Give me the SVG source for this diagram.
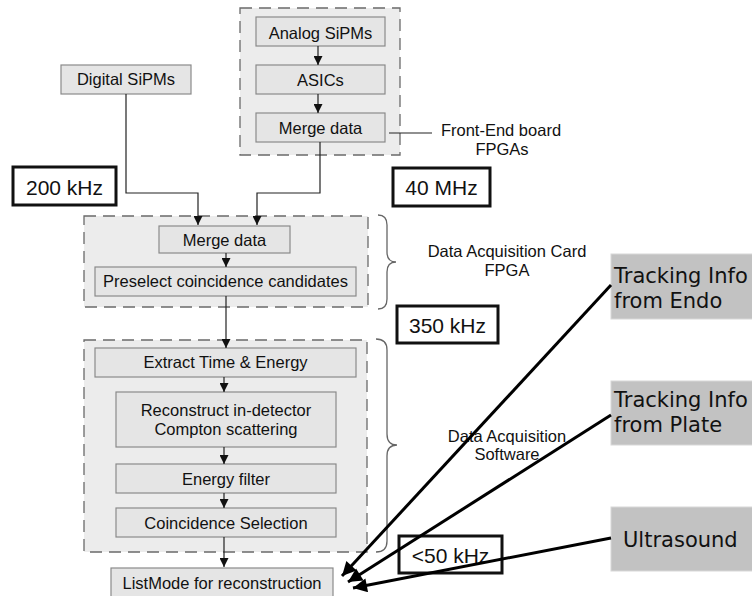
<svg xmlns="http://www.w3.org/2000/svg" width="752" height="596" viewBox="0 0 752 596">
<defs>
<style>
.cont{fill:#ececec;stroke:#6a6a6a;stroke-width:1.3;stroke-dasharray:12 7}
.box{fill:#e5e5e5;stroke:#8a8a8a;stroke-width:1.2}
.t{font-family:"Liberation Sans",Arial,sans-serif;font-size:16.5px;fill:#111;text-anchor:middle}
.rate{fill:#fff;stroke:#111;stroke-width:3}
.rt{font-family:"Liberation Sans",Arial,sans-serif;font-size:21px;fill:#111;text-anchor:middle}
.ext{fill:#c2c2c2;stroke:#d8d8d8;stroke-width:1}
.et{font-family:"DejaVu Sans",sans-serif;font-size:21px;fill:#111}
.ln{fill:none;stroke:#222;stroke-width:1.2}
.thick{fill:none;stroke:#000;stroke-width:3}
.brace{fill:none;stroke:#666;stroke-width:1.3}
</style>
<marker id="a" viewBox="0 0 10 10" refX="10" refY="5" markerWidth="9" markerHeight="9" markerUnits="userSpaceOnUse" orient="auto">
<path d="M0,0 L10,5 L0,10 z" fill="#111"/>
</marker>
<marker id="b" viewBox="0 0 10 10" refX="10" refY="5" markerWidth="18" markerHeight="14" markerUnits="userSpaceOnUse" orient="auto">
<path d="M0,0 L10,5 L0,10 z" fill="#000"/>
</marker>
</defs>
<rect width="752" height="596" fill="#fff"/>

<g id="frontend">
<rect class="cont" x="240" y="8" width="160" height="147"/>
</g>
<g id="analog"><rect class="box" x="256" y="17" width="129" height="29"/><text class="t" x="320.5" y="39">Analog SiPMs</text></g>
<g id="asics"><rect class="box" x="256" y="65" width="129" height="29"/><text class="t" x="320.5" y="86">ASICs</text></g>
<g id="merge1"><rect class="box" x="256" y="113" width="129" height="29"/><text class="t" x="320.5" y="134">Merge data</text></g>
<g id="fe-label"><text class="t" x="501" y="136">Front-End board</text><text class="t" x="502" y="155">FPGAs</text></g>
<g id="digital"><rect class="box" x="61" y="65" width="130" height="29"/><text class="t" x="126" y="85">Digital SiPMs</text></g>
<g id="r200"><rect class="rate" x="13" y="167" width="103" height="38"/><text class="rt" x="64.5" y="195">200 kHz</text></g>
<g id="r40"><rect class="rate" x="393" y="168" width="97" height="38"/><text class="rt" x="441.5" y="195">40 MHz</text></g>

<g id="daqcard"><rect class="cont" x="84" y="216" width="284" height="91"/></g>
<g id="merge2"><rect class="box" x="159" y="226" width="131" height="27"/><text class="t" x="224.5" y="246">Merge data</text></g>
<g id="preselect"><rect class="box" x="95" y="267" width="261" height="29"/><text class="t" x="225.5" y="287">Preselect coincidence candidates</text></g>
<g id="card-label"><path class="brace" d="M378,215 Q387,215 387,225 L387,252 Q387,262 396,262 Q387,262 387,272 L387,299 Q387,309 378,309"/><text class="t" x="507" y="257">Data Acquisition Card</text><text class="t" x="507" y="276">FPGA</text></g>
<g id="r350"><rect class="rate" x="397" y="306" width="101" height="37"/><text class="rt" x="447.5" y="333">350 kHz</text></g>

<g id="daqsw"><rect class="cont" x="84" y="340" width="283" height="212"/></g>
<g id="extract"><rect class="box" x="95" y="348" width="261" height="29"/><text class="t" x="225.5" y="368">Extract Time &amp; Energy</text></g>
<g id="reconstruct"><rect class="box" x="116" y="392" width="220" height="55"/><text class="t" x="226" y="416">Reconstruct in-detector</text><text class="t" x="226" y="435">Compton scattering</text></g>
<g id="energy"><rect class="box" x="116" y="464" width="220" height="29"/><text class="t" x="226" y="485">Energy filter</text></g>
<g id="coinc"><rect class="box" x="116" y="508" width="220" height="29"/><text class="t" x="226" y="529">Coincidence Selection</text></g>
<g id="sw-label"><path class="brace" d="M376,339 Q387,339 387,350 L387,434 Q387,445 397,445 Q387,445 387,456 L387,541 Q387,552 376,552"/><text class="t" x="507" y="442">Data Acquisition</text><text class="t" x="507" y="460">Software</text></g>
<g id="listmode"><rect class="box" x="111" y="568" width="222" height="34"/><text class="t" x="222" y="589">ListMode for reconstruction</text></g>
<g id="r50"><rect class="rate" x="399" y="536" width="103" height="37"/><text class="rt" x="450.5" y="563">&lt;50 kHz</text></g>

<g id="endo"><rect class="ext" x="611" y="254" width="150" height="65"/><text class="et" x="614" y="283">Tracking Info</text><text class="et" x="614" y="308">from Endo</text></g>
<g id="plate"><rect class="ext" x="611" y="381" width="150" height="64"/><text class="et" x="614" y="407">Tracking Info</text><text class="et" x="614" y="432">from Plate</text></g>
<g id="ultra"><rect class="ext" x="611" y="507" width="150" height="64"/><text class="et" x="623" y="547">Ultrasound</text></g>

<g id="connectors">
<line class="ln" x1="318" y1="46" x2="318" y2="65" marker-end="url(#a)"/>
<line class="ln" x1="318" y1="94" x2="318" y2="113" marker-end="url(#a)"/>
<line class="ln" x1="389" y1="133" x2="432" y2="133"/>
<polyline class="ln" points="320,142 320,193 257,193 257,225" marker-end="url(#a)"/>
<polyline class="ln" points="126,94 126,193 198,193 198,225" marker-end="url(#a)"/>
<line class="ln" x1="226" y1="253" x2="226" y2="267" marker-end="url(#a)"/>
<line class="ln" x1="226" y1="296" x2="226" y2="348" marker-end="url(#a)"/>
<line class="ln" x1="224" y1="377" x2="224" y2="392" marker-end="url(#a)"/>
<line class="ln" x1="224" y1="447" x2="224" y2="464" marker-end="url(#a)"/>
<line class="ln" x1="224" y1="493" x2="224" y2="508" marker-end="url(#a)"/>
<line class="ln" x1="224" y1="537" x2="224" y2="567" marker-end="url(#a)"/>
<line class="thick" x1="611" y1="285" x2="342" y2="576" marker-end="url(#b)"/>
<line class="thick" x1="611" y1="415" x2="348" y2="582" marker-end="url(#b)"/>
<line class="thick" x1="611" y1="538" x2="353" y2="588" marker-end="url(#b)"/>
</g>
</svg>
